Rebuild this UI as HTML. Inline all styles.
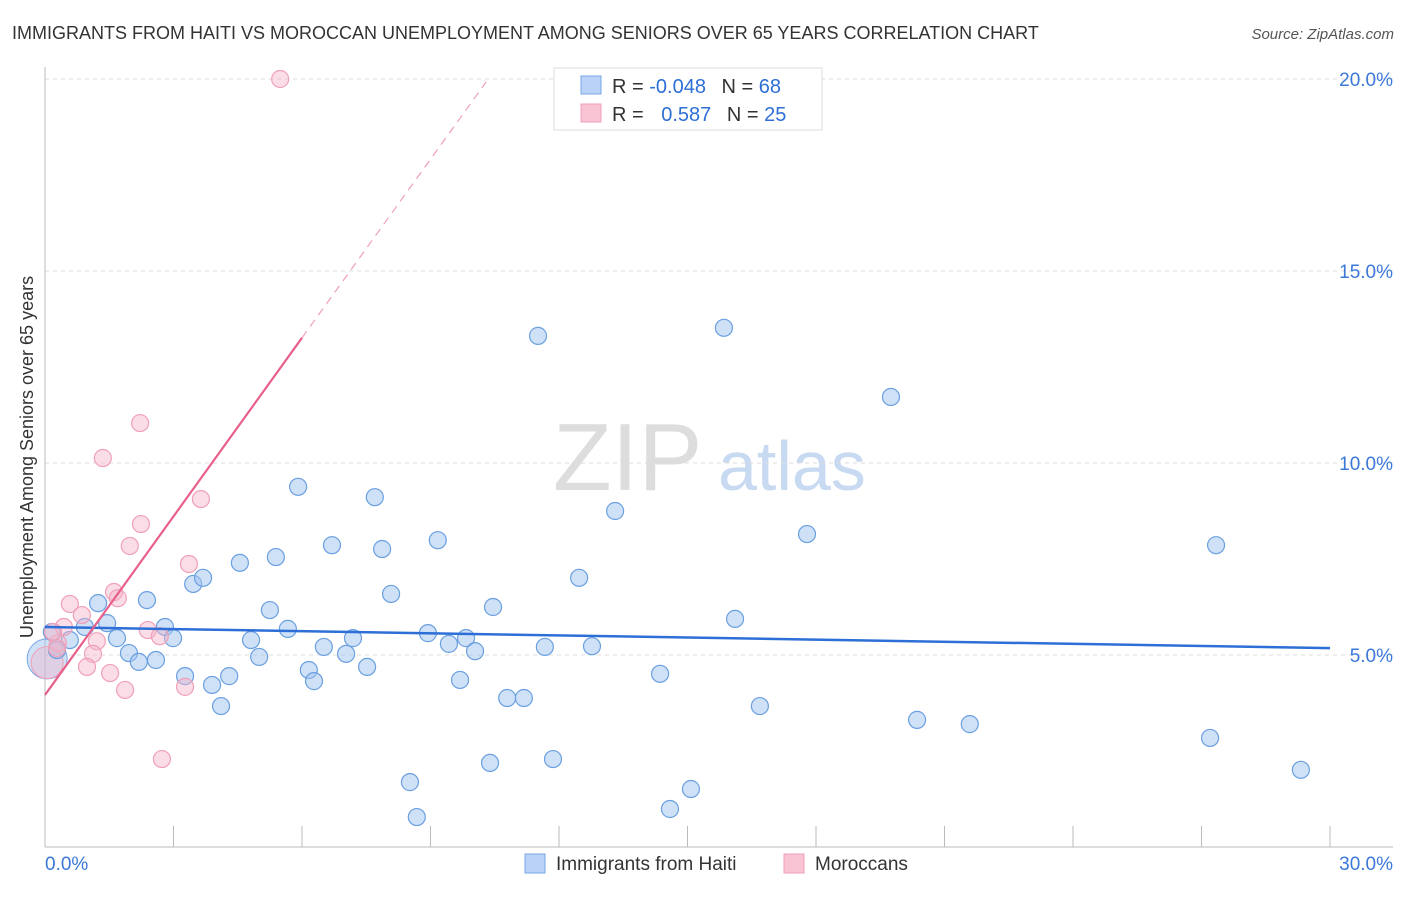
<!DOCTYPE html>
<html><head><meta charset="utf-8"><style>
body{margin:0;background:#fff;font-family:"Liberation Sans",sans-serif;}
svg text{font-family:"Liberation Sans",sans-serif;}
</style></head><body>
<svg id="chart" width="1406" height="892">
<text x="12" y="39" font-size="18" fill="#333">IMMIGRANTS FROM HAITI VS MOROCCAN UNEMPLOYMENT AMONG SENIORS OVER 65 YEARS CORRELATION CHART</text>
<text x="1394" y="39" font-size="15" fill="#555" font-style="italic" text-anchor="end">Source: ZipAtlas.com</text>
<g><text x="553" y="490" font-size="96" fill="#ddd" font-family="Liberation Serif">ZIP</text><text x="718" y="490" font-size="70" fill="#c8daf2">atlas</text></g>
<g id="grid"></g><g id="axes"></g><g id="marks"></g>
<g>
<rect x="554" y="68" width="268" height="62" fill="#fff" stroke="#ddd"/>
<rect x="581" y="76" width="20" height="18" fill="#b9d2f5" stroke="#7aa6e6"/>
<rect x="581" y="104" width="20" height="18" fill="#f8c4d4" stroke="#f0a0b8"/>
<text x="612" y="93" font-size="20" fill="#333">R = <tspan fill="#2d6fd6">-0.048</tspan>  <tspan dx="10" fill="#333">N = </tspan><tspan fill="#2d6fd6">68</tspan></text>
<text x="612" y="121" font-size="20" fill="#333">R = <tspan dx="12" fill="#2d6fd6">0.587</tspan>  <tspan dx="10" fill="#333">N = </tspan><tspan fill="#2d6fd6">25</tspan></text>
</g>
<g>
<rect x="525" y="854" width="20" height="19" fill="#b9d2f5" stroke="#7aa6e6"/>
<text x="556" y="870" font-size="19" fill="#333">Immigrants from Haiti</text>
<rect x="784" y="854" width="20" height="19" fill="#f8c4d4" stroke="#f0a0b8"/>
<text x="815" y="870" font-size="19" fill="#333">Moroccans</text>
</g>
</svg>
<script>
const blueX=[0.28,0.58,0.16,0.93,1.24,1.45,1.68,1.96,2.19,2.38,2.59,2.80,2.99,3.27,3.46,3.69,3.90,4.11,4.30,4.55,4.81,5.00,5.25,5.39,5.67,5.91,6.16,6.28,6.51,6.70,7.03,7.19,7.52,7.70,7.87,8.08,8.52,8.68,8.94,9.17,9.43,9.69,9.83,10.04,10.39,10.46,10.79,11.18,11.51,11.67,11.86,12.47,12.77,13.31,14.36,14.59,15.08,15.85,16.11,16.69,17.79,19.75,20.36,21.59,27.20,27.34,29.32];
const blueY=[5.13,5.39,5.60,5.73,6.35,5.83,5.44,5.05,4.82,6.43,4.87,5.73,5.44,4.45,6.85,7.01,4.22,3.67,4.45,7.40,5.39,4.95,6.17,7.55,5.68,9.38,4.61,4.32,5.21,7.86,5.03,5.44,4.69,9.11,7.76,6.59,1.69,0.78,5.57,7.99,5.29,4.35,5.44,5.10,2.19,6.25,3.88,3.88,13.31,5.21,2.29,7.01,5.23,8.75,4.51,0.99,1.51,13.52,5.94,3.67,8.15,11.72,3.31,3.20,2.84,7.86,2.01];
const pinkX=[5.49,2.22,1.35,3.64,2.24,1.98,3.36,1.61,1.70,0.58,0.86,0.44,2.40,2.68,1.21,1.12,0.30,0.19,0.98,1.52,1.87,3.27,2.73,0.28];
const pinkY=[20.0,11.04,10.13,9.06,8.41,7.84,7.37,6.64,6.48,6.33,6.04,5.73,5.65,5.49,5.36,5.03,5.31,5.60,4.69,4.53,4.09,4.17,2.29,5.18];
const yTicks=[5,10,15,20];
const yTickLabels=["5.0%","10.0%","15.0%","20.0%"];
const xTicks=[0,3,6,9,12,15,18,21,24,27,30];
const blueTrend=[5.73,5.18];
const pinkTrend=[3.96,1.55];
const NS="http://www.w3.org/2000/svg";
const sx=v=>45+v*1285/30, sy=v=>847-v*38.4;
function mk(t,a,p){const e=document.createElementNS(NS,t);for(const k in a)e.setAttribute(k,a[k]);p.appendChild(e);return e;}
const grid=document.getElementById('grid'),axes=document.getElementById('axes'),marks=document.getElementById('marks');
yTicks.forEach((v,i)=>{
 const l=mk('line',{x1:45,x2:1393,y1:sy(v),y2:sy(v),stroke:'#ddd','stroke-dasharray':'4,4'},grid);
 
 
 const t=mk('text',{x:1393,y:sy(v)+7,'font-size':19,fill:'#3b78d8','text-anchor':'end'},axes);
 t.textContent=yTickLabels[i];
 
 
});
mk('line',{x1:45,x2:45,y1:67,y2:847,stroke:'#bbb'},axes);
mk('line',{x1:45,x2:1393,y1:847,y2:847,stroke:'#bbb'},axes);
xTicks.forEach(v=>{const l=mk('line',{x1:sx(v),x2:sx(v),y1:826,y2:847,stroke:'#bbb'},axes);
 
 });
[[0,'0.0%','start',45],[30,'30.0%','end',1393]].forEach(d=>{const t=mk('text',{x:d[3],y:870,'font-size':19,fill:'#3b78d8','text-anchor':d[2]},axes);t.textContent=d[1];
 
 });
const yt=mk('text',{x:33,y:457,'font-size':18,fill:'#333','text-anchor':'middle',transform:'rotate(-90 33 457)'},axes);
yt.textContent='Unemployment Among Seniors over 65 years';


// big cluster circles
const bb=mk('circle',{cx:sx(0.05),cy:sy(4.9),r:20,fill:'rgba(160,196,240,0.5)',stroke:'#7aa6e6'},marks);


const pb=mk('circle',{cx:sx(0.05),cy:sy(4.8),r:16,fill:'rgba(245,180,200,0.4)',stroke:'#f0a0b8'},marks);


blueX.forEach((x,i)=>{const c=mk('circle',{cx:sx(x),cy:sy(blueY[i]),r:8.5,fill:'rgba(160,196,240,0.5)',stroke:'#6a9fe0','stroke-width':1.2},marks);
 
 });
pinkX.forEach((x,i)=>{const c=mk('circle',{cx:sx(x),cy:sy(pinkY[i]),r:8.5,fill:'rgba(245,180,200,0.45)',stroke:'#f0a0b8','stroke-width':1.2},marks);
 
 });
const bl=mk('line',{x1:sx(0),x2:sx(30),y1:sy(blueTrend[0]),y2:sy(blueTrend[1]),stroke:'#2d6fd6','stroke-width':2.5},marks);


const pl=mk('line',{x1:sx(0),x2:sx(6),y1:sy(pinkTrend[0]),y2:sy(pinkTrend[0]+pinkTrend[1]*6),stroke:'#e8608a','stroke-width':2.2},marks);


const pd=mk('line',{x1:sx(6),x2:sx(10.3),y1:sy(pinkTrend[0]+pinkTrend[1]*6),y2:sy(pinkTrend[0]+pinkTrend[1]*10.3),stroke:'#f0a0b8','stroke-width':1.2,'stroke-dasharray':'8,6'},marks);


</script>
</body></html>
